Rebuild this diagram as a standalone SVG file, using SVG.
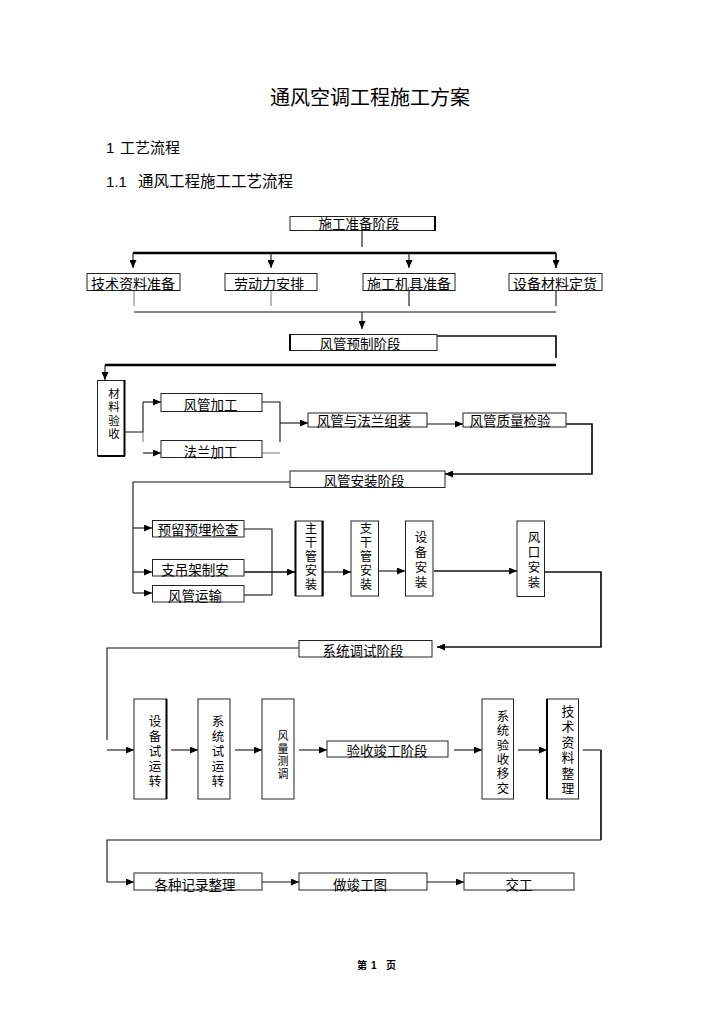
<svg xmlns="http://www.w3.org/2000/svg" width="723" height="1024" viewBox="0 0 723 1024">
<style>
text{font-family:"Noto Sans CJK SC","Liberation Sans",sans-serif;fill:#000}
.lat{font-family:"Liberation Sans","Noto Sans CJK SC",sans-serif}
.box{fill:#fff;stroke:#222;stroke-width:1}
.lb{font-size:13.5px;text-anchor:middle}
.vt{text-anchor:middle;font-family:"Liberation Sans","Noto Sans CJK SC",sans-serif}
.ln{fill:none;stroke:#111;stroke-width:1.1}
.lt{fill:none;stroke:#777;stroke-width:1}
.thk{fill:none;stroke:#000;stroke-width:2.6}
.med{fill:none;stroke:#111;stroke-width:1.7}
.arr{marker-end:url(#ah)}
.edge{stroke:#000;stroke-width:2}
</style>
<defs>
<marker id="ah" markerWidth="8" markerHeight="7" refX="8" refY="3.5" orient="auto" markerUnits="userSpaceOnUse"><path d="M0,0 L8,3.5 L0,7 z" fill="#000"/></marker>
</defs>
<rect width="723" height="1024" fill="#fff"/>

<g id="headings">
<text x="370" y="105" style="font-size:20px" text-anchor="middle">通风空调工程施工方案</text>
<text x="106" y="153" style="font-size:15px" class="lat">1</text>
<text x="120" y="153" style="font-size:15px">工艺流程</text>
<text x="106" y="187" style="font-size:15px" class="lat">1.1</text>
<text x="138" y="187" style="font-size:15.5px">通风工程施工工艺流程</text>
<text x="357" y="969" style="font-size:10px;font-weight:bold">第</text>
<text x="371" y="969" style="font-size:10px;font-weight:bold" class="lat">1</text>
<text x="386" y="969" style="font-size:10px;font-weight:bold">页</text>
</g>

<g id="connectors">
<path class="ln" d="M362,231 V247"/>
<path class="thk" d="M133,253 H556"/>
<path class="ln arr" d="M133,253 V268"/>
<path class="ln arr" d="M271,253 V268"/>
<path class="ln arr" d="M409,253 V268"/>
<path class="thk arr" style="stroke-width:1.6" d="M556,253 V268"/>
<path class="lt" d="M134,291 V306"/>
<path class="lt" d="M271,291 V306"/>
<path class="ln" d="M409,291 V306"/>
<path class="ln" d="M556,291 V306"/>
<path class="ln" d="M134,312 H556"/>
<path class="ln arr" d="M362,312 V329"/>
<path class="med" d="M437,336 H556 V358"/>
<path class="thk" d="M105,365 H556"/>
<path class="ln arr" d="M105,365 V380"/>
<path class="ln" d="M125,432 H143 V402"/>
<path class="lt" d="M143,432 V442"/>
<path class="ln arr" d="M143,402 H161"/>
<path class="ln arr" d="M143,453 H161"/>
<path class="ln" d="M262,402 H280 V442"/>
<path class="lt" d="M262,453 H280"/>
<path class="ln arr" d="M280,423 H308"/>
<path class="ln arr" d="M427,424 H463"/>
<path class="med arr" d="M566,424 H592 V474 H445"/>
<path class="ln" d="M290,482 H133 V593"/>
<path class="ln arr" d="M133,528 H152"/>
<path class="ln arr" d="M133,572 H152"/>
<path class="ln arr" d="M133,593 H152"/>
<path class="ln" d="M244,529 H272 V595"/>
<path class="ln" d="M244,595 H272"/>
<path class="med arr" d="M244,572 H295"/>
<path class="ln arr" d="M323,572 H351"/>
<path class="ln arr" d="M378,571 H405"/>
<path class="med arr" d="M434,571 H517"/>
<path class="med arr" d="M544,572 H601 V647 H437"/>
<path class="ln" d="M299,648 H107 V740"/>
<path class="ln arr" d="M107,750 H134"/>
<path class="ln arr" d="M171,750 H198"/>
<path class="ln arr" d="M235,750 H262"/>
<path class="ln arr" d="M299,750 H327"/>
<path class="ln arr" d="M454,750 H482"/>
<path class="ln arr" d="M518,750 H547"/>
<path class="ln" d="M583,750 H601"/>
<path class="med" d="M601,750 V840"/>
<path class="ln arr" d="M601,840 H107 V882 H134"/>
<path class="ln arr" d="M262,882 H299"/>
<path class="ln arr" d="M427,882 H464"/>
</g>

<g id="n-sgzb"><rect class="box" x="290" y="216.5" width="145" height="14"/><line class="edge" x1="435" y1="216" x2="435" y2="231"/><text class="lb" x="359" y="229">施工准备阶段</text></g>
<g id="n-jszl"><rect class="box" x="87" y="273.5" width="93" height="17"/><text class="lb" x="133" y="288.5" style="font-size:14px">技术资料准备</text></g>
<g id="n-ldl"><rect class="box" x="225" y="273.5" width="92" height="17"/><text class="lb" x="269" y="288.5" style="font-size:14px">劳动力安排</text></g>
<g id="n-sgjj"><rect class="box" x="363" y="273.5" width="92" height="17"/><text class="lb" x="409" y="288.5" style="font-size:14px">施工机具准备</text></g>
<g id="n-sbcl"><rect class="box" x="509" y="273.5" width="93" height="17"/><text class="lb" x="555" y="288.5" style="font-size:14px">设备材料定货</text></g>
<g id="n-fgyz"><rect class="box" x="290" y="334.5" width="147" height="16"/><line class="edge" x1="290" y1="334" x2="290" y2="351"/><text class="lb" x="360" y="349">风管预制阶段</text></g>

<g id="n-clys"><rect class="box" x="97.5" y="380.5" width="27" height="75"/><line class="edge" x1="97.5" y1="456" x2="125" y2="456"/><line class="edge" x1="124.5" y1="380" x2="124.5" y2="456"/><text class="vt" style="font-size:11.5px"><tspan x="114" y="397.5">材</tspan><tspan x="114" y="411">料</tspan><tspan x="114" y="424.5">验</tspan><tspan x="114" y="437.8">收</tspan></text></g>
<g id="n-fgjg"><rect class="box" x="161" y="393.5" width="101" height="18"/><text class="lb" x="210.5" y="410">风管加工</text></g>
<g id="n-fljg"><rect class="box" x="161" y="440.5" width="101" height="17"/><text class="lb" x="210.5" y="456.5">法兰加工</text></g>
<g id="n-fgfl"><rect class="box" x="308" y="413" width="119" height="14"/><text class="lb" x="364" y="425.5">风管与法兰组装</text></g>
<g id="n-fgzl"><rect class="box" x="463" y="413" width="103" height="14"/><text class="lb" x="510" y="425.5">风管质量检验</text></g>
<g id="n-fgaz"><rect class="box" x="290" y="471" width="155" height="16.5"/><text class="lb" x="364" y="486">风管安装阶段</text></g>

<g id="n-ylym"><rect class="box" x="152.5" y="520.5" width="91.5" height="16.5"/><text class="lb" x="198" y="535">预留预埋检查</text></g>
<g id="n-zdj"><rect class="box" x="152.5" y="559.5" width="91.5" height="16.5"/><text class="lb" x="195" y="575">支吊架制安</text></g>
<g id="n-fgys"><rect class="box" x="152.5" y="585.5" width="91.5" height="16.5"/><text class="lb" x="195" y="601">风管运输</text></g>
<g id="n-zggaz"><rect class="box" x="295.5" y="521" width="27.5" height="75"/><line class="edge" x1="295.5" y1="521" x2="295.5" y2="596"/><line class="edge" x1="322.5" y1="521" x2="322.5" y2="596"/><text class="vt" style="font-size:12px"><tspan x="311" y="532.5">主</tspan><tspan x="311" y="546.5">干</tspan><tspan x="311" y="560.5">管</tspan><tspan x="311" y="574.5">安</tspan><tspan x="311" y="588.5">装</tspan></text></g>
<g id="n-zhgaz"><rect class="box" x="351" y="521" width="27.5" height="75"/><text class="vt" style="font-size:12px"><tspan x="366" y="532.5">支</tspan><tspan x="366" y="546.5">干</tspan><tspan x="366" y="560.5">管</tspan><tspan x="366" y="574.5">安</tspan><tspan x="366" y="588.5">装</tspan></text></g>
<g id="n-sbaz"><rect class="box" x="405.5" y="521" width="27.5" height="75"/><text class="vt" style="font-size:12.5px"><tspan x="421" y="541.8">设</tspan><tspan x="421" y="556.8">备</tspan><tspan x="421" y="571.8">安</tspan><tspan x="421" y="586.8">装</tspan></text></g>
<g id="n-fkaz"><rect class="box" x="517" y="521" width="27.5" height="75.5"/><text class="vt" style="font-size:12.5px"><tspan x="534" y="541.8">风</tspan><tspan x="534" y="556.8">口</tspan><tspan x="534" y="571.8">安</tspan><tspan x="534" y="586.8">装</tspan></text></g>
<g id="n-xttsjd"><rect class="box" x="299" y="640.5" width="133" height="16.5"/><text class="lb" x="363" y="656">系统调试阶段</text></g>

<g id="n-sbsyz"><rect class="box" x="134" y="699" width="32.5" height="100"/><line class="edge" x1="166.5" y1="699" x2="166.5" y2="799"/><text class="vt" style="font-size:12.5px"><tspan x="155" y="725.8">设</tspan><tspan x="155" y="740.8">备</tspan><tspan x="155" y="755.8">试</tspan><tspan x="155" y="770.8">运</tspan><tspan x="155" y="785.8">转</tspan></text></g>
<g id="n-xtsyz"><rect class="box" x="198" y="699" width="32" height="100"/><text class="vt" style="font-size:12.5px"><tspan x="218" y="725.8">系</tspan><tspan x="218" y="740.8">统</tspan><tspan x="218" y="755.8">试</tspan><tspan x="218" y="770.8">运</tspan><tspan x="218" y="785.8">转</tspan></text></g>
<g id="n-fltt"><rect class="box" x="262" y="699" width="32" height="100"/><text class="vt" style="font-size:11px"><tspan x="283" y="740.2">风</tspan><tspan x="283" y="752.7">量</tspan><tspan x="283" y="765.2">测</tspan><tspan x="283" y="777.7">调</tspan></text></g>
<g id="n-ysjg"><rect class="box" x="327" y="741" width="121" height="16"/><text class="lb" x="387" y="756">验收竣工阶段</text></g>
<g id="n-xtys"><rect class="box" x="482" y="699" width="31.5" height="100"/><text class="vt" style="font-size:12.4px"><tspan x="503" y="720.7">系</tspan><tspan x="503" y="735.1">统</tspan><tspan x="503" y="749.5">验</tspan><tspan x="503" y="763.9">收</tspan><tspan x="503" y="778.3">移</tspan><tspan x="503" y="792.7">交</tspan></text></g>
<g id="n-jszlzl"><rect class="box" x="547" y="699" width="31.5" height="100"/><line class="edge" x1="547" y1="699" x2="547" y2="799"/><text class="vt" style="font-size:12.8px"><tspan x="568" y="715.9">技</tspan><tspan x="568" y="731.3">术</tspan><tspan x="568" y="746.7">资</tspan><tspan x="568" y="762.1">料</tspan><tspan x="568" y="777.5">整</tspan><tspan x="568" y="792.9">理</tspan></text></g>

<g id="n-gzjl"><rect class="box" x="134" y="873" width="128" height="17"/><text class="lb" x="195" y="890">各种记录整理</text></g>
<g id="n-zjgt"><rect class="box" x="299" y="873" width="128" height="17"/><text class="lb" x="360" y="890">做竣工图</text></g>
<g id="n-jg"><rect class="box" x="464" y="873" width="110" height="17"/><text class="lb" x="519" y="890">交工</text></g>
</svg>
